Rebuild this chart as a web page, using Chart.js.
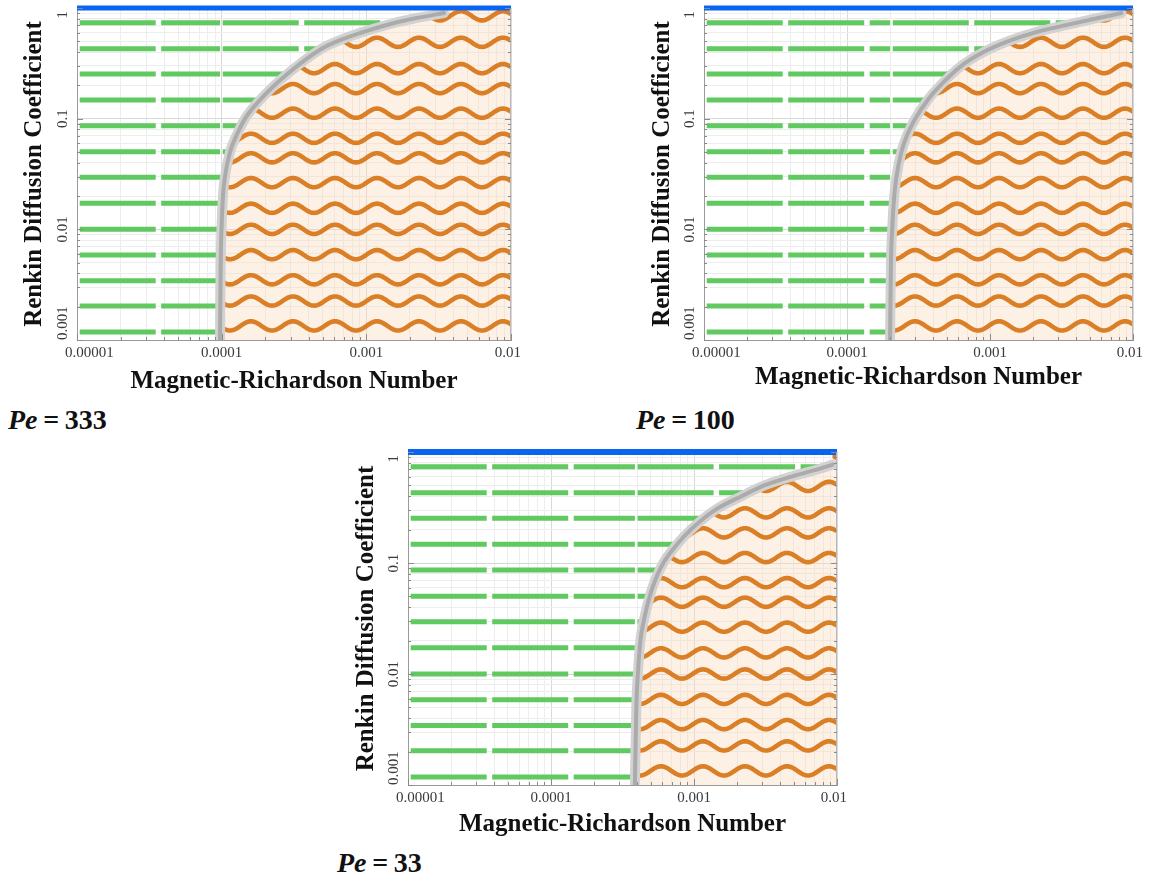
<!DOCTYPE html>
<html>
<head>
<meta charset="utf-8">
<script src="https://cdn.jsdelivr.net/npm/chart.js@4.4.1/dist/chart.umd.min.js"></script>
<style>
html,body{margin:0;padding:0;background:#fff;}
body{width:1156px;height:882px;position:relative;overflow:hidden;font-family:"Liberation Serif",serif;}
canvas{position:absolute;}
.pe{position:absolute;font-family:"Liberation Serif",serif;font-weight:bold;font-size:28px;line-height:28px;color:#111;white-space:nowrap;}
</style>
</head>
<body>
<canvas id="c1" width="560" height="397" style="left:0px;top:0px"></canvas>
<canvas id="c2" width="528" height="393" style="left:628px;top:0px"></canvas>
<canvas id="c3" width="560" height="396" style="left:331px;top:444px"></canvas>
<div class="pe" id="pe1" style="left:8px;top:406px"></div>
<div class="pe" id="pe2" style="left:636px;top:406px"></div>
<div class="pe" id="pe3" style="left:337px;top:849px"></div>
<script>
// ---------------- data ----------------
const xTickValues = [1e-5, 1e-4, 1e-3, 1e-2];
const xTickLabels = ['0.00001', '0.0001', '0.001', '0.01'];
const yTickValues = [1e-3, 1e-2, 1e-1, 1];
const yTickLabels = ['0.001', '0.01', '0.1', '1'];
const xTitle = 'Magnetic-Richardson Number';
const yTitle = 'Renkin Diffusion Coefficient';
const peNumbers = [333, 100, 33];

// Renkin diffusion coefficient of the green dashed (stable) rows
const stableRows = [0.736, 0.429, 0.253, 0.1475, 0.0864, 0.0503, 0.0295, 0.0172, 0.01, 0.00586, 0.00343, 0.00203, 0.00118];
// Renkin diffusion coefficient of the orange wavy (unstable) rows
const unstableRows = [0.85, 0.49, 0.283, 0.187, 0.112, 0.0665, 0.0443, 0.0264, 0.0155, 0.01, 0.0059, 0.0035, 0.00225, 0.00134];

// stability boundary (grey curve): diffusion coefficient and critical Magnetic-Richardson number
const boundaryD_333  = [0.001, 0.005, 0.01, 0.02, 0.03, 0.05, 0.07, 0.1, 0.1475, 0.253, 0.429, 0.5, 0.6, 0.736, 0.8, 0.9];
const boundaryRi_333 = [9.74e-5, 9.85e-5, 9.97e-5, 1.021e-4, 1.054e-4, 1.142e-4, 1.264e-4, 1.452e-4, 1.841e-4, 2.842e-4, 4.898e-4, 6.268e-4, 9.24e-4, 1.578e-3, 2.102e-3, 3.441e-3];
const boundaryD_100  = [0.001, 0.005, 0.01, 0.02, 0.03, 0.05, 0.07, 0.1, 0.15, 0.2, 0.3, 0.4, 0.5, 0.6, 0.7, 0.8, 0.9];
const boundaryRi_100 = [2.0e-4, 2.03e-4, 2.07e-4, 2.14e-4, 2.22e-4, 2.4e-4, 2.62e-4, 3.0e-4, 3.7e-4, 4.5e-4, 6.3e-4, 9.0e-4, 1.33e-3, 2.05e-3, 3.4e-3, 5.4e-3, 8.3e-3];
const boundaryD_33   = [0.001, 0.005, 0.01, 0.02, 0.03, 0.05, 0.07, 0.1, 0.15, 0.2, 0.3, 0.4, 0.5, 0.6, 0.7, 0.77];
const boundaryRi_33  = [3.86e-4, 3.95e-4, 4.05e-4, 4.22e-4, 4.45e-4, 4.9e-4, 5.35e-4, 6.1e-4, 7.7e-4, 9.5e-4, 1.4e-3, 2.15e-3, 3.1e-3, 4.8e-3, 7.4e-3, 9.3e-3];

const topLineD = 1;
const X_MIN = 1e-5, X_MAX = 1e-2, Y_MIN = 1e-3, Y_MAX = 1;

// ---------------- layout / style ----------------
const panels = [
  {id: 'c1', pe: 'pe1', D: boundaryD_333, Ri: boundaryRi_333, yWidth: 77, xHeight: 57, padTop: 8, padRight: 49, yTitlePad: 20, blueWidth: 5},
  {id: 'c2', pe: 'pe2', D: boundaryD_100, Ri: boundaryRi_100, yWidth: 76, xHeight: 53, padTop: 8, padRight: 23, yTitlePad: 20, blueWidth: 5},
  {id: 'c3', pe: 'pe3', D: boundaryD_33,  Ri: boundaryRi_33,  yWidth: 77, xHeight: 55, padTop: 8, padRight: 54, yTitlePad: 21, blueWidth: 6},
];
const GREEN = '#60c960', ORANGE = '#db7f27', BLUE = '#0a64f2';
const SERIF = '"Liberation Serif", "Times New Roman", serif';

function isDecade(v) {
  if (!v) return false;
  const l = Math.log10(v);
  return Math.abs(l - Math.round(l)) < 1e-6;
}
function logGridTicks(min, max) {
  const out = [];
  const e0 = Math.round(Math.log10(min)), e1 = Math.round(Math.log10(max));
  for (let e = e0; e < e1; e++) for (let m = 1; m < 10; m++) out.push({value: m * Math.pow(10, e)});
  out.push({value: max});
  return out;
}
const gridColor = c => (c.tick && isDecade(c.tick.value)) ? '#d8d8d8' : '#ededed';

function boundaryMeta(chart) {
  const idx = chart.data.datasets.findIndex(d => d.boundary);
  const meta = chart.getDatasetMeta(idx);
  if (meta.dataset && meta.dataset.updateControlPoints) meta.dataset.updateControlPoints(chart.chartArea, 'x');
  return meta;
}
function regionPath(chart, side) {
  const pts = boundaryMeta(chart).data;
  const {left, right, top, bottom} = chart.chartArea;
  const p = new Path2D();
  const first = pts[0], last = pts[pts.length - 1];
  if (side === 'right') {
    p.moveTo(first.x, bottom + 60);
  } else {
    p.moveTo(left - 60, bottom + 60);
    p.lineTo(first.x, bottom + 60);
  }
  p.lineTo(first.x, first.y);
  for (let i = 1; i < pts.length; i++) {
    const a = pts[i - 1], b = pts[i];
    if (a.cp2x !== undefined && b.cp1x !== undefined) p.bezierCurveTo(a.cp2x, a.cp2y, b.cp1x, b.cp1y, b.x, b.y);
    else p.lineTo(b.x, b.y);
  }
  p.lineTo(last.x, top - 60);
  if (side === 'right') {
    p.lineTo(right + 60, top - 60);
    p.lineTo(right + 60, bottom + 60);
  } else {
    p.lineTo(left - 60, top - 60);
  }
  p.closePath();
  return p;
}
function clipArea(ctx, a) {
  ctx.beginPath();
  ctx.rect(a.left, a.top, a.right - a.left, a.bottom - a.top);
  ctx.clip();
}
function drawWave(chart, meta) {
  const pts = meta.data;
  const a = pts[0], b = pts[pts.length - 1];
  const area = chart.chartArea, ctx = chart.ctx;
  const crest = area.right - 8, lambda = 42, amp = 4.6;
  ctx.save();
  clipArea(ctx, area);
  ctx.clip(regionPath(chart, 'right'));
  ctx.beginPath();
  let firstPt = true;
  for (let x = a.x; x <= b.x + 0.5; x += 1) {
    const y = a.y - amp * Math.cos(2 * Math.PI * (x - crest) / lambda);
    if (firstPt) { ctx.moveTo(x, y); firstPt = false; } else ctx.lineTo(x, y);
  }
  ctx.strokeStyle = ORANGE;
  ctx.lineWidth = 4.6;
  ctx.lineJoin = 'round';
  ctx.lineCap = 'round';
  ctx.stroke();
  ctx.restore();
}

const phasePlot = {
  id: 'phasePlot',
  beforeDatasetsDraw(chart) {
    const ctx = chart.ctx;
    ctx.save();
    clipArea(ctx, chart.chartArea);
    ctx.fillStyle = 'rgba(251,222,196,0.42)';
    ctx.fill(regionPath(chart, 'right'));
    ctx.restore();
  },
  beforeDatasetDraw(chart, args) {
    const ds = chart.data.datasets[args.index];
    if (ds.region === 'left') {
      chart.ctx.save();
      chart.ctx.clip(regionPath(chart, 'left'));
    }
  },
  afterDatasetDraw(chart, args) {
    const ds = chart.data.datasets[args.index];
    if (ds.region === 'left') chart.ctx.restore();
    if (ds.wavy) drawWave(chart, args.meta);
  },
  afterDraw(chart) {
    const ctx = chart.ctx;
    const {left, right, top, bottom} = chart.chartArea;
    const xs = chart.scales.x, ys = chart.scales.y;
    ctx.save();
    // right frame
    ctx.strokeStyle = '#b8b8b8';
    ctx.lineWidth = 1;
    ctx.beginPath();
    ctx.moveTo(Math.round(right) - 0.5, top);
    ctx.lineTo(Math.round(right) - 0.5, bottom);
    ctx.stroke();
    // inward ticks
    ctx.strokeStyle = '#8a8a8a';
    ctx.beginPath();
    xs.ticks.forEach(t => {
      const px = Math.round(xs.getPixelForValue(t.value)) + 0.5;
      const len = isDecade(t.value) ? 6 : 3;
      ctx.moveTo(px, bottom); ctx.lineTo(px, bottom - len);
    });
    ys.ticks.forEach(t => {
      const py = Math.round(ys.getPixelForValue(t.value)) + 0.5;
      const len = isDecade(t.value) ? 6 : 3;
      ctx.moveTo(left, py); ctx.lineTo(left + len, py);
      ctx.moveTo(right, py); ctx.lineTo(right - len, py);
    });
    ctx.stroke();
    // tick labels
    ctx.fillStyle = '#3a3a3a';
    ctx.font = '15px ' + SERIF;
    ctx.textBaseline = 'middle';
    ctx.textAlign = 'center';
    xTickValues.forEach((v, i) => {
      const w = ctx.measureText(xTickLabels[i]).width;
      let cx = xs.getPixelForValue(v);
      cx = Math.max(cx, left - 12 + w / 2);
      cx = Math.min(cx, right + 10 - w / 2);
      ctx.fillText(xTickLabels[i], cx, bottom + 13.5);
    });
    yTickValues.forEach((v, i) => {
      const w = ctx.measureText(yTickLabels[i]).width;
      let cy = ys.getPixelForValue(v);
      cy = Math.max(cy, top + w / 2 + 3);
      cy = Math.min(cy, bottom - w / 2);
      ctx.save();
      ctx.translate(left - 14, cy);
      ctx.rotate(-Math.PI / 2);
      ctx.fillText(yTickLabels[i], 0, 0);
      ctx.restore();
    });
    ctx.restore();
  }
};

function buildChart(P, k) {
  const datasets = [];
  // blue top line
  datasets.push({
    data: [{x: X_MIN, y: topLineD}, {x: X_MAX, y: topLineD}],
    borderColor: BLUE, borderWidth: P.blueWidth, pointRadius: 0, clip: false, order: 0, borderCapStyle: 'butt'
  });
  const curve = P.Ri.map((r, i) => ({x: r, y: P.D[i]}));
  // grey boundary: core and halo
  datasets.push({
    data: curve, borderColor: '#ababab', borderWidth: 4, pointRadius: 0,
    cubicInterpolationMode: 'monotone', borderCapStyle: 'round', order: 1
  });
  datasets.push({
    data: curve, boundary: true, borderColor: '#d2d2d2', borderWidth: 10, pointRadius: 0,
    cubicInterpolationMode: 'monotone', borderCapStyle: 'round', order: 2
  });
  // green dashed stable rows (dash pattern restarts at the boundary asymptote)
  const restart = P.Ri[0];
  const green = [];
  stableRows.forEach(d => {
    green.push({x: X_MIN, y: d}, {x: restart, y: d}, {x: restart, y: null},
               {x: restart, y: d}, {x: X_MAX, y: d}, {x: X_MAX, y: null});
  });
  datasets.push({
    data: green, region: 'left', borderColor: GREEN, borderWidth: 5, pointRadius: 0,
    borderDash: [76, 5.5], borderDashOffset: 78.8, borderCapStyle: 'butt', spanGaps: false, order: 3
  });
  // orange wavy unstable rows
  unstableRows.forEach(d => {
    datasets.push({
      data: [{x: X_MIN, y: d}, {x: X_MAX, y: d}], wavy: true, showLine: false,
      borderWidth: 0, pointRadius: 0, order: 4
    });
  });

  new Chart(document.getElementById(P.id), {
    type: 'line',
    data: {datasets},
    options: {
      responsive: false,
      animation: false,
      events: [],
      layout: {padding: {left: 0, top: P.padTop, right: P.padRight, bottom: 0}},
      plugins: {legend: {display: false}, tooltip: {enabled: false}, title: {display: false}},
      scales: {
        x: {
          type: 'logarithmic', position: 'bottom', min: X_MIN, max: X_MAX,
          afterBuildTicks: s => { s.ticks = logGridTicks(X_MIN, X_MAX); },
          afterFit: s => { s.height = P.xHeight; },
          ticks: {display: false},
          grid: {color: gridColor, lineWidth: 1, drawTicks: false},
          border: {display: true, color: '#9a9a9a', width: 1},
          title: {display: true, text: xTitle, color: '#111',
                  font: {family: SERIF, size: 25, weight: 'bold', lineHeight: 1.2}, padding: {top: 0, bottom: 0}}
        },
        y: {
          type: 'logarithmic', position: 'left', min: Y_MIN, max: Y_MAX,
          afterBuildTicks: s => { s.ticks = logGridTicks(Y_MIN, Y_MAX); },
          afterFit: s => { s.width = P.yWidth; },
          ticks: {display: false},
          grid: {color: gridColor, lineWidth: 1, drawTicks: false},
          border: {display: true, color: '#9a9a9a', width: 1},
          title: {display: true, text: yTitle, color: '#111',
                  font: {family: SERIF, size: 25, weight: 'bold', lineHeight: 1.2}, padding: {top: P.yTitlePad, bottom: 0}}
        }
      }
    },
    plugins: [phasePlot]
  });

  document.getElementById(P.pe).innerHTML = '<i>Pe</i>\u2009=\u2009' + peNumbers[k];
}

panels.forEach((P, k) => buildChart(P, k));
</script>
</body>
</html>
